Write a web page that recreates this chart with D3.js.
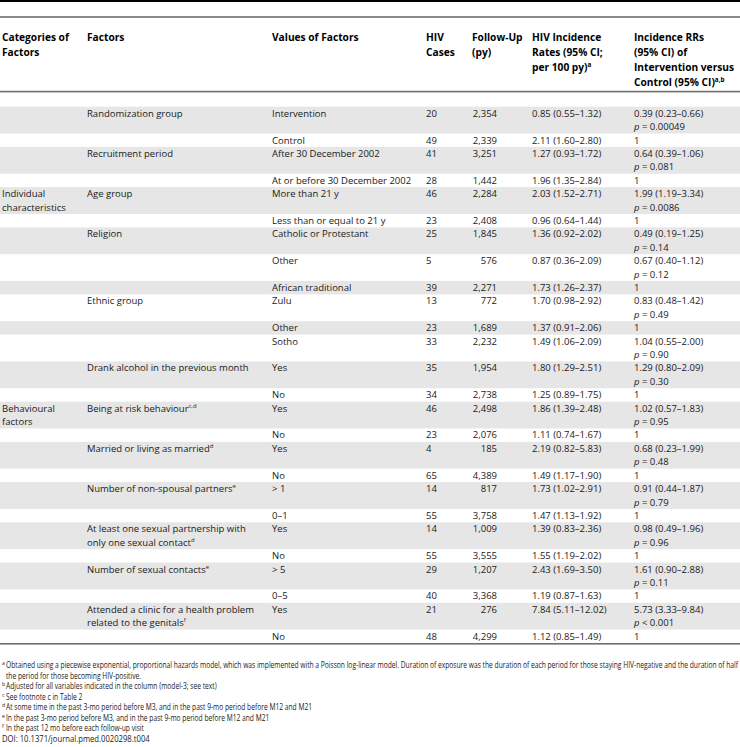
<!DOCTYPE html>
<html><head><meta charset="utf-8">
<script src="https://cdn.jsdelivr.net/npm/d3@7"></script>
<style>body{margin:0;background:#fff} svg{display:block}</style>
</head><body><svg id="t" width="740" height="747"></svg>
<script>
// ---------- data ----------
const headers = {
  cat: ["Categories of", "Factors"],
  fac: ["Factors"],
  val: ["Values of Factors"],
  cases: ["HIV", "Cases"],
  fu: ["Follow-Up", "(py)"],
  rate: ["HIV Incidence", "Rates (95% CI;", "per 100 py)^a"],
  rr: ["Incidence RRs", "(95% CI) of", "Intervention versus", "Control (95% CI)^a,b"]
};
const factorNames = [
  ["Randomization group"], ["Recruitment period"], ["Age group"], ["Religion"],
  ["Ethnic group"], ["Drank alcohol in the previous month"], ["Being at risk behaviour^c,d"],
  ["Married or living as married^d"], ["Number of non-spousal partners^e"],
  ["At least one sexual partnership with", "only one sexual contact^d"],
  ["Number of sexual contacts^e"],
  ["Attended a clinic for a health problem", "related to the genitals^f"]
];
const factorSizes = [2, 2, 2, 3, 3, 2, 2, 2, 2, 2, 2, 2];
const categoryLabels = [
  { factor: 2, lines: ["Individual", "characteristics"] },
  { factor: 6, lines: ["Behavioural", "factors"] }
];
const values = ["Intervention", "Control", "After 30 December 2002", "At or before 30 December 2002",
  "More than 21 y", "Less than or equal to 21 y", "Catholic or Protestant", "Other", "African traditional",
  "Zulu", "Other", "Sotho", "Yes", "No", "Yes", "No", "Yes", "No", "> 1", "0–1", "Yes", "No",
  "> 5", "0–5", "Yes", "No"];
const cases = [20, 49, 41, 28, 46, 23, 25, 5, 39, 13, 23, 33, 35, 34, 46, 23, 4, 65, 14, 55, 14, 55, 29, 40, 21, 48];
const followUp = [2354, 2339, 3251, 1442, 2284, 2408, 1845, 576, 2271, 772, 1689, 2232, 1954, 2738, 2498, 2076,
  185, 4389, 817, 3758, 1009, 3555, 1207, 3368, 276, 4299];
const rates = ["0.85 (0.55–1.32)", "2.11 (1.60–2.80)", "1.27 (0.93–1.72)", "1.96 (1.35–2.84)", "2.03 (1.52–2.71)",
  "0.96 (0.64–1.44)", "1.36 (0.92–2.02)", "0.87 (0.36–2.09)", "1.73 (1.26–2.37)", "1.70 (0.98–2.92)",
  "1.37 (0.91–2.06)", "1.49 (1.06–2.09)", "1.80 (1.29–2.51)", "1.25 (0.89–1.75)", "1.86 (1.39–2.48)",
  "1.11 (0.74–1.67)", "2.19 (0.82–5.83)", "1.49 (1.17–1.90)", "1.73 (1.02–2.91)", "1.47 (1.13–1.92)",
  "1.39 (0.83–2.36)", "1.55 (1.19–2.02)", "2.43 (1.69–3.50)", "1.19 (0.87–1.63)", "7.84 (5.11–12.02)",
  "1.12 (0.85–1.49)"];
const rrs = ["0.39 (0.23–0.66)", "1", "0.64 (0.39–1.06)", "1", "1.99 (1.19–3.34)", "1", "0.49 (0.19–1.25)",
  "0.67 (0.40–1.12)", "1", "0.83 (0.48–1.42)", "1", "1.04 (0.55–2.00)", "1.29 (0.80–2.09)", "1",
  "1.02 (0.57–1.83)", "1", "0.68 (0.23–1.99)", "1", "0.91 (0.44–1.87)", "1", "0.98 (0.49–1.96)", "1",
  "1.61 (0.90–2.88)", "1", "5.73 (3.33–9.84)", "1"];
const pvals = ["= 0.00049", null, "= 0.081", null, "= 0.0086", null, "= 0.14", "= 0.12", null, "= 0.49", null,
  "= 0.90", "= 0.30", null, "= 0.95", null, "= 0.48", null, "= 0.79", null, "= 0.96", null, "= 0.11", null,
  "< 0.001", null];
const footnotes = [
  ["a", "Obtained using a piecewise exponential, proportional hazards model, which was implemented with a Poisson log-linear model. Duration of exposure was the duration of each period for those staying HIV-negative and the duration of half"],
  ["", "the period for those becoming HIV-positive."],
  ["b", "Adjusted for all variables indicated in the column (model-3; see text)"],
  ["c", "See footnote c in Table 2"],
  ["d", "At some time in the past 3-mo period before M3, and in the past 9-mo period before M12 and M21"],
  ["e", "In the past 3-mo period before M3, and in the past 9-mo period before M12 and M21"],
  ["f", "In the past 12 mo before each follow-up visit"],
  ["", "DOI: 10.1371/journal.pmed.0020298.t004"]
];

// ---------- layout ----------
const W = 740;
const FONT = "'Open Sans', sans-serif";
const FS = 9.5, HFS = 10.2;
const INK = "#1a1a1a";
const colX = { cat: 2, fac: 87, val: 272, cases: 426, fu: 497, rate: 532, rr: 634 };
const svg = d3.select("#t").style("font-family", FONT);

// rows
const rows = [];
let fi = 0, inFac = 0;
values.forEach((v, i) => {
  const first = inFac === 0;
  const fLines = first ? factorNames[fi].length : 1;
  const n = Math.max(fLines, pvals[i] ? 2 : 1);
  rows.push({ i, factor: fi, first, n });
  inFac++;
  if (inFac === factorSizes[fi]) { fi++; inFac = 0; }
});
let acc = 0;
rows.forEach(r => { r.start = acc; acc += r.n; });
const totalLines = acc;
const y = d3.scaleLinear().domain([0, totalLines]).range([106.7, 643]);
const BASE = 10;

function addText(g, x, yy, str, opts = {}) {
  const t = g.append("text").attr("x", x).attr("y", yy)
    .attr("font-size", opts.fs || FS).attr("fill", opts.fill || INK)
    .attr("font-weight", opts.bold ? "bold" : null)
    .attr("text-anchor", opts.anchor || "start");
  const parts = str.split("^");
  t.append("tspan").text(parts[0]);
  if (parts[1]) t.append("tspan").attr("font-size", (opts.fs || FS) * 0.62).attr("dy", -3.8).text(parts[1]);
  return t;
}

// stripes
svg.append("g").selectAll("rect").data(rows.filter(r => r.i % 2 === 0)).join("rect")
  .attr("x", 0).attr("width", W)
  .attr("y", r => y(r.start)).attr("height", r => y(r.start + r.n) - y(r.start))
  .attr("fill", "#e6e6e6");

// rules
svg.append("rect").attr("x", 0).attr("y", 0).attr("width", W).attr("height", 2).attr("fill", "#000");
[16.2, 90.8, y(totalLines)].forEach(v => svg.append("rect").attr("x", 0).attr("y", v).attr("width", W).attr("height", 1.6).attr("fill", "#6e6e6e"));

// header
const hg = svg.append("g");
Object.entries(headers).forEach(([k, lines]) => {
  lines.forEach((l, j) => addText(hg, k === "fu" ? 472 : colX[k], 41 + j * 14.9, l, { bold: true, fs: HFS, fill: "#000" }));
});

// body
const bg = svg.append("g");
rows.forEach(r => {
  const b = y(r.start) + BASE;
  const lh = y(1) - y(0);
  if (r.first) factorNames[r.factor].forEach((l, j) => addText(bg, colX.fac, b + j * lh, l));
  const cl = categoryLabels.find(c => c.factor === r.factor);
  if (r.first && cl) cl.lines.forEach((l, j) => addText(bg, colX.cat, b + j * lh, l));
  addText(bg, colX.val, b, values[r.i]);
  addText(bg, colX.cases, b, String(cases[r.i]));
  addText(bg, colX.fu, b, d3.format(",")(followUp[r.i]), { anchor: "end" });
  addText(bg, colX.rate, b, rates[r.i]);
  addText(bg, colX.rr, b, rrs[r.i]);
  if (pvals[r.i]) {
    const t = bg.append("text").attr("x", colX.rr).attr("y", b + lh).attr("font-size", FS).attr("fill", INK);
    t.append("tspan").attr("font-style", "italic").text("p");
    t.append("tspan").text(" " + pvals[r.i]);
  }
});

// footnotes
const fg = svg.append("g");
const FFS = 8.2;
footnotes.forEach(([s, txt], j) => {
  const yy = 668 + j * 10.55;
  if (s) fg.append("text").attr("x", 2).attr("y", yy - 2.9).attr("font-size", 5.2).attr("fill", INK).text(s);
  fg.append("text").attr("class", j === 7 ? "doi" : "fn").attr("x", j === 7 ? 2 : 6).attr("y", yy)
    .attr("font-size", FFS).attr("fill", INK).text(txt);
});
// horizontally condense footnote text (a narrow face in the original) so the first line fits the page width
const first = fg.select("text.fn").node();
const natural = first.getComputedTextLength();
const sx = (738 - 6) / natural;
fg.selectAll("text.fn").attr("transform", function () {
  const x0 = +d3.select(this).attr("x");
  return `translate(${x0},0) scale(${sx},1) translate(${-x0},0)`;
});
fg.selectAll("text.doi").attr("transform", `translate(2,0) scale(${sx * 1.15},1) translate(-2,0)`);
</script></body></html>
